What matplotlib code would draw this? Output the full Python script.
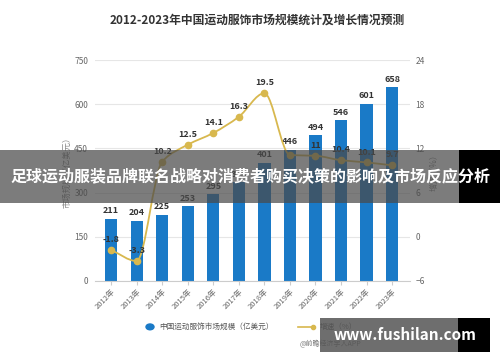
import numpy as np
import matplotlib
matplotlib.use('Agg')
import matplotlib.pyplot as plt
from matplotlib.path import Path
from matplotlib.patches import PathPatch, Rectangle

plt.rcParams['font.family'] = ['Noto Sans CJK SC', 'DejaVu Sans']

years = ['2012年', '2013年', '2014年', '2015年', '2016年', '2017年',
         '2018年', '2019年', '2020年', '2021年', '2022年', '2023年']
market = [211, 204, 225, 253, 295, 335, 401, 446, 494, 546, 601, 658]
growth = [-1.8, -3.3, 10.2, 12.5, 14.1, 16.3, 19.5, 11.1, 11.0, 10.4, 10.1, 9.7]
growth_labels = ['-1.8', '-3.3', '10.2', '12.5', '14.1', '16.3', '19.5', '', '11', '10.4', '10.1', '9.7']

bar_color = '#1a7ac7'
line_color = '#d8b84e'

fig = plt.figure(figsize=(5, 3.62), dpi=100)
ax = fig.add_axes([0.19, 0.224, 0.63, 0.61])
ax2 = ax.twinx()

x = np.arange(len(years))
ax.bar(x, market, width=0.48, color=bar_color, zorder=2)
for xi, v in zip(x, market):
    ax.text(xi, v + 12, str(v), ha='center', va='bottom', fontsize=6.5,
            fontweight='bold', color='#333333', zorder=5)

ax.set_ylim(0, 750)
ax.set_yticks([0, 150, 300, 450, 600, 750])
ax.set_xlim(-0.63, 11.7)
ax.set_xticks(x)
ax.set_xticklabels(years, rotation=45, ha='right', rotation_mode='anchor', fontsize=5.5, color='#666666')
ax.tick_params(axis='y', length=0, labelsize=6, colors='#666666', pad=5)
ax.tick_params(axis='x', length=3, color='#cccccc', pad=2)
ax.grid(axis='y', color='#e6e6e6', linewidth=0.8, zorder=0)
ax.set_axisbelow(True)
for s in ['top', 'right', 'left']:
    ax.spines[s].set_visible(False)
ax.spines['bottom'].set_color('#cccccc')
ax.set_ylabel('市场规模（亿美元）', fontsize=6, color='#888888', labelpad=2)

# smooth growth line (monotone cubic, drawn as Bezier segments)
gx = x.astype(float)
gy = np.array(growth, dtype=float)
d = np.diff(gy)
m = np.zeros_like(gy)
m[0], m[-1] = d[0], d[-1]
for k in range(1, len(gy) - 1):
    if d[k - 1] * d[k] > 0:
        m[k] = 2.0 / (1.0 / d[k - 1] + 1.0 / d[k])
verts = [(gx[0], gy[0])]
codes = [Path.MOVETO]
for k in range(len(gy) - 1):
    verts += [(gx[k] + 1 / 3, gy[k] + m[k] / 3),
              (gx[k + 1] - 1 / 3, gy[k + 1] - m[k + 1] / 3),
              (gx[k + 1], gy[k + 1])]
    codes += [Path.CURVE4] * 3
ax2.add_patch(PathPatch(Path(verts, codes), facecolor='none', edgecolor=line_color,
                        linewidth=1.3, zorder=3))
ax2.plot(x, growth, 'o', color=line_color, markersize=4.5, zorder=4)
for xi, v, lab in zip(x, growth, growth_labels):
    ax2.text(xi, v + 0.8, lab, ha='center', va='bottom', fontsize=6.5,
             fontweight='bold', color='#333333', zorder=5)
ax2.set_ylim(-6, 24)
ax2.set_yticks([-6, 0, 6, 12, 18, 24])
ax2.tick_params(axis='y', length=0, labelsize=6, colors='#666666', pad=4)
for s in ['top', 'right', 'left', 'bottom']:
    ax2.spines[s].set_visible(False)
ax2.set_ylabel('增速（%）', fontsize=6, color='#888888', labelpad=3)

fig.text(0.515, 0.945, '2012-2023年中国运动服饰市场规模统计及增长情况预测',
         ha='center', va='center', fontsize=8.5, fontweight='bold', color='#333333')

# legend
fig.patches.append(plt.Circle((0.3, 0.097), 0.008, transform=fig.transFigure,
                              color=bar_color, figure=fig))
fig.text(0.318, 0.097, '中国运动服饰市场规模（亿美元）', ha='left', va='center',
         fontsize=5.5, color='#555555')
fig.lines.append(plt.Line2D([0.595, 0.625], [0.097, 0.097], transform=fig.transFigure,
                            color=line_color, linewidth=1.2, marker='o', markersize=3,
                            markevery=[1], figure=fig))
fig.text(0.64, 0.097, '增速（%）', ha='left', va='center', fontsize=5.5, color='#555555')
fig.text(0.6, 0.048, '@前瞻经济学人APP', ha='left', va='center', fontsize=5, color='#777777')

# overlay banner
fig.patches.append(Rectangle((0, 0.44), 0.918, 0.146, transform=fig.transFigure,
                             facecolor='#4a4a4a', alpha=0.72, figure=fig, zorder=10))
fig.patches.append(Rectangle((0.918, 0.44), 0.082, 0.146, transform=fig.transFigure,
                             facecolor='black', figure=fig, zorder=10))
fig.text(0.5, 0.513, '足球运动服装品牌联名战略对消费者购买决策的影响及市场反应分析',
         ha='center', va='center', fontsize=11.5, fontweight='bold', color='white', zorder=11)

# site watermark box
fig.patches.append(Rectangle((0.64, 0.028), 0.276, 0.094, transform=fig.transFigure,
                             facecolor='#555555', alpha=0.85, figure=fig, zorder=10))
fig.patches.append(Rectangle((0.916, 0.028), 0.064, 0.094, transform=fig.transFigure,
                             facecolor='black', figure=fig, zorder=10))
fig.text(0.81, 0.075, 'www.fushilan.com', ha='center', va='center', fontsize=11,
         fontweight='bold', color='white', zorder=11)

fig.savefig('out.png', dpi=100)
